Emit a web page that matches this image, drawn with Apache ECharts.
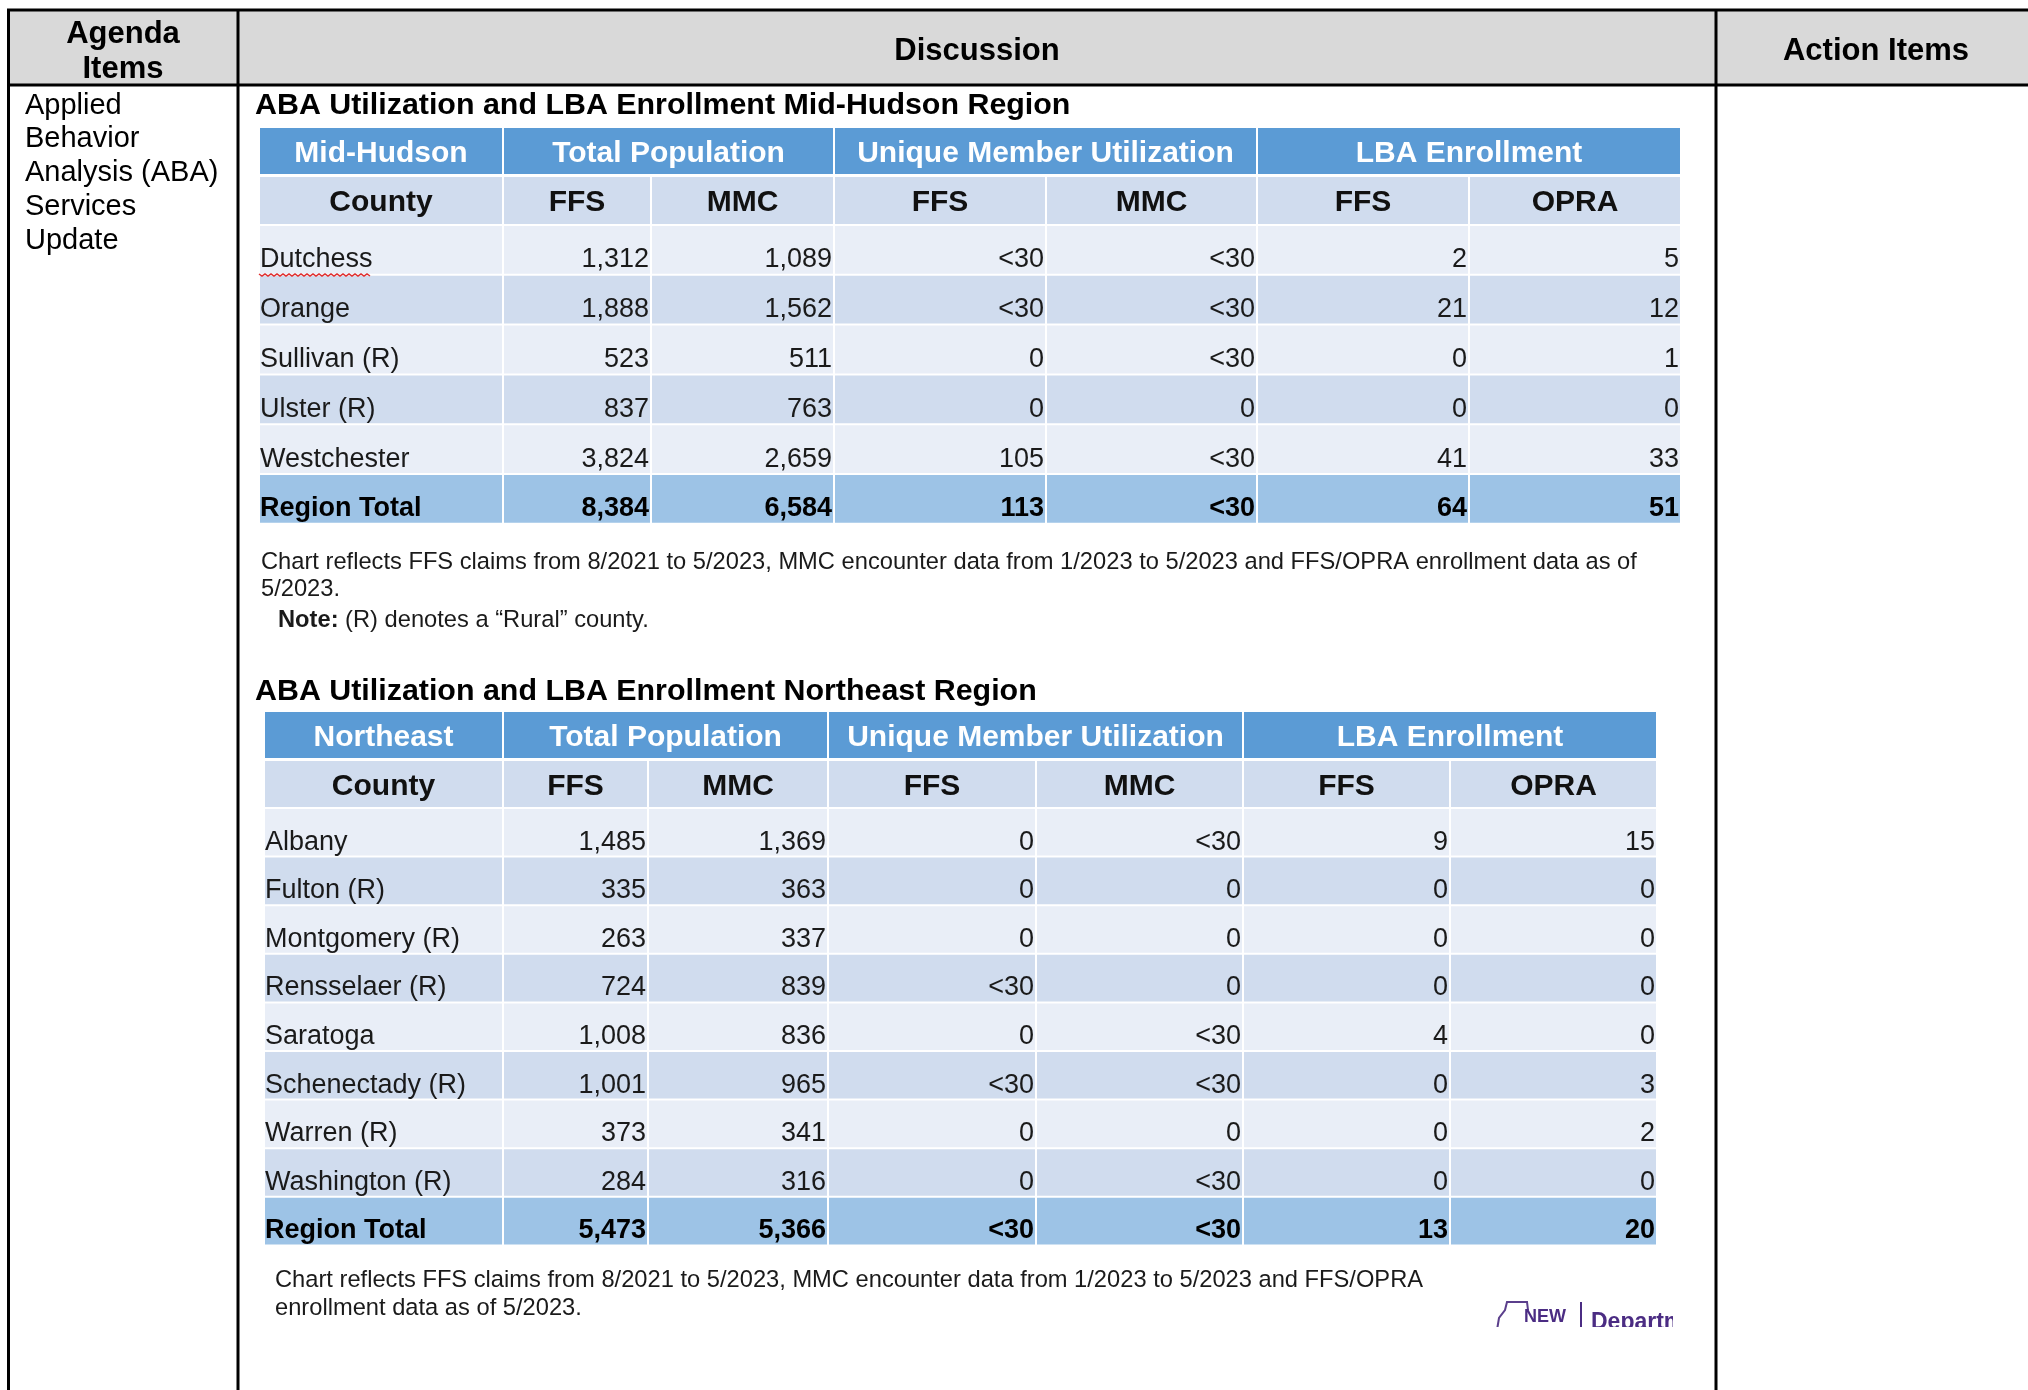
<!DOCTYPE html>
<html>
<head>
<meta charset="utf-8">
<script src="https://cdn.jsdelivr.net/npm/echarts@6/dist/echarts.min.js"></script>
<style>
  html, body { margin: 0; padding: 0; background: #fff; }
  #chart { width: 2028px; height: 1390px; }
</style>
</head>
<body>
<div id="chart"></div>
<script>
// header labels
const groupHeaders = ['Total Population', 'Unique Member Utilization', 'LBA Enrollment'];
const subHeaders = ['County', 'FFS', 'MMC', 'FFS', 'MMC', 'FFS', 'OPRA'];

// Mid-Hudson region
const midHudsonCounties = ['Dutchess', 'Orange', 'Sullivan (R)', 'Ulster (R)', 'Westchester', 'Region Total'];
const midHudsonPopFFS = ['1,312', '1,888', '523', '837', '3,824', '8,384'];
const midHudsonPopMMC = ['1,089', '1,562', '511', '763', '2,659', '6,584'];
const midHudsonUtilFFS = ['<30', '<30', '0', '0', '105', '113'];
const midHudsonUtilMMC = ['<30', '<30', '<30', '0', '<30', '<30'];
const midHudsonLbaFFS = ['2', '21', '0', '0', '41', '64'];
const midHudsonLbaOPRA = ['5', '12', '1', '0', '33', '51'];

// Northeast region
const northeastCounties = ['Albany', 'Fulton (R)', 'Montgomery (R)', 'Rensselaer (R)', 'Saratoga',
  'Schenectady (R)', 'Warren (R)', 'Washington (R)', 'Region Total'];
const northeastPopFFS = ['1,485', '335', '263', '724', '1,008', '1,001', '373', '284', '5,473'];
const northeastPopMMC = ['1,369', '363', '337', '839', '836', '965', '341', '316', '5,366'];
const northeastUtilFFS = ['0', '0', '0', '<30', '0', '<30', '0', '0', '<30'];
const northeastUtilMMC = ['<30', '0', '0', '0', '<30', '<30', '0', '<30', '<30'];
const northeastLbaFFS = ['9', '0', '0', '0', '4', '0', '0', '0', '13'];
const northeastLbaOPRA = ['15', '0', '0', '0', '0', '3', '2', '0', '20'];

const FONT = '"Liberation Sans", Arial, sans-serif';
const fills = { group: '#5B9BD5', sub: '#D0DCEE', light: '#E9EEF7', dark: '#D0DCEE', total: '#9DC3E6' };
const DY = 3; // glyphs sit a little lower than the box middle

const tables = [
  {
    region: 'Mid-Hudson',
    columns: [midHudsonCounties, midHudsonPopFFS, midHudsonPopMMC, midHudsonUtilFFS, midHudsonUtilMMC, midHudsonLbaFFS, midHudsonLbaOPRA],
    left: 259, top: 127,
    colWidths: [244, 148, 183, 212, 211, 212, 212],
    headH: [48, 50], rowH: 49.8
  },
  {
    region: 'Northeast',
    columns: [northeastCounties, northeastPopFFS, northeastPopMMC, northeastUtilFFS, northeastUtilMMC, northeastLbaFFS, northeastLbaOPRA],
    left: 264, top: 711,
    colWidths: [239, 145, 180, 208, 207, 207, 207],
    headH: [48, 49], rowH: 48.6
  }
];

// build the list of cells of one table in its own units (1 unit = 1px)
function buildCells(t) {
  const xs = [0];
  t.colWidths.forEach(w => xs.push(xs[xs.length - 1] + w));
  const ys = [0, t.headH[0], t.headH[0] + t.headH[1]];
  t.columns[0].forEach(() => ys.push(ys[ys.length - 1] + t.rowH));

  const cells = [];
  const spans = [[0, 1, t.region], [1, 3, groupHeaders[0]], [3, 5, groupHeaders[1]], [5, 7, groupHeaders[2]]];
  spans.forEach(([a, b, txt]) => cells.push({ v: [xs[a], ys[0], xs[b], ys[1]], text: txt, kind: 'group' }));
  subHeaders.forEach((txt, c) => cells.push({ v: [xs[c], ys[1], xs[c + 1], ys[2]], text: txt, kind: 'sub' }));
  t.columns.forEach((col, c) => col.forEach((txt, r) => {
    const last = r === col.length - 1;
    cells.push({
      v: [xs[c], ys[r + 2], xs[c + 1], ys[r + 3]],
      text: txt,
      kind: last ? 'total' : (r % 2 ? 'dark' : 'light'),
      align: c === 0 ? 'left' : 'right'
    });
  }));
  return { cells, width: xs[xs.length - 1], height: ys[ys.length - 1] };
}

function makeRender(cells) {
  return function (params, api) {
    const cell = cells[params.dataIndex];
    const p0 = api.coord([api.value(0), api.value(1)]);
    const p1 = api.coord([api.value(2), api.value(3)]);
    const x = p0[0], y = p0[1], w = p1[0] - p0[0], h = p1[1] - p0[1];
    let tx, ty, align, size = 27, weight = 'normal', color = '#1a1a1a';
    if (cell.kind === 'group' || cell.kind === 'sub') {
      tx = x + w / 2; ty = y + h / 2 + DY; align = 'center';
      size = 30; weight = 'bold';
      color = cell.kind === 'group' ? '#ffffff' : '#111111';
    } else {
      align = cell.align;
      tx = align === 'left' ? x + 1 : x + w - 2;
      ty = y + h * 0.64 + DY;
      if (cell.kind === 'total') { weight = 'bold'; color = '#000'; }
    }
    const topGap = cell.kind === 'sub' ? 2 : 1;
    return {
      type: 'group',
      children: [
        { type: 'rect', shape: { x: x + 1, y: y + topGap, width: w - 2, height: h - topGap - 1 }, style: { fill: fills[cell.kind] } },
        {
          type: 'text',
          style: {
            text: cell.text, x: tx, y: ty, align: align, verticalAlign: 'middle',
            textAlign: align, textVerticalAlign: 'middle',
            fontSize: size, fontWeight: weight, fontFamily: FONT, fill: color
          }
        }
      ]
    };
  };
}

const grids = [], xAxes = [], yAxes = [], series = [];
tables.forEach((t, i) => {
  const b = buildCells(t);
  grids.push({ left: t.left, top: t.top, width: b.width, height: b.height });
  xAxes.push({ type: 'value', gridIndex: i, min: 0, max: b.width, show: false });
  yAxes.push({ type: 'value', gridIndex: i, min: 0, max: b.height, inverse: true, show: false });
  series.push({
    type: 'custom',
    xAxisIndex: i, yAxisIndex: i,
    silent: true,
    renderItem: makeRender(b.cells),
    data: b.cells.map(c => c.v)
  });
});

// helpers for the document frame around the tables
function txt(x, y, text, size, opts) {
  opts = opts || {};
  return {
    type: 'text', x: x, y: y + DY, z: 5,
    style: Object.assign({
      text: text, fontSize: size, fontFamily: FONT, fill: '#000',
      fontWeight: opts.bold ? 'bold' : 'normal',
      align: opts.align || 'left', textAlign: opts.align || 'left',
      verticalAlign: 'middle', textVerticalAlign: 'middle'
    }, opts.style || {})
  };
}
function line(x1, y1, x2, y2, w, color) {
  return { type: 'line', z: 6, shape: { x1, y1, x2, y2 }, style: { stroke: color || '#000', lineWidth: w || 3 } };
}

// spell-check squiggle under "Dutchess"
const squiggle = [];
for (let x = 259; x <= 371; x += 3) squiggle.push([x, 274 + ((x - 259) / 3 % 2 ? 2 : 0)]);

const NOTE = 23.7;
const noteStyle = { rich: { b: { fontWeight: 'bold', fontSize: NOTE, fontFamily: FONT, fill: '#1a1a1a' } }, fill: '#1a1a1a' };

const graphic = [
  { type: 'rect', z: 1, shape: { x: 9, y: 10, width: 2019, height: 75 }, style: { fill: '#D9D9D9' } },
  line(7, 10, 2028, 10),
  line(7, 85, 2028, 85),
  line(8.5, 10, 8.5, 1390),
  line(238, 10, 238, 1390),
  line(1716, 10, 1716, 1390),

  txt(123, 31, 'Agenda', 31, { bold: true, align: 'center' }),
  txt(123, 66, 'Items', 31, { bold: true, align: 'center' }),
  txt(977, 48, 'Discussion', 31, { bold: true, align: 'center' }),
  txt(1876, 48, 'Action Items', 31, { bold: true, align: 'center' }),

  txt(25, 103, 'Applied', 29),
  txt(25, 136, 'Behavior', 29),
  txt(25, 170, 'Analysis (ABA)', 29),
  txt(25, 204, 'Services', 29),
  txt(25, 238, 'Update', 29),

  txt(255, 103, 'ABA Utilization and LBA Enrollment Mid-Hudson Region', 30.4, { bold: true }),
  txt(261, 559, 'Chart reflects FFS claims from 8/2021 to 5/2023, MMC encounter data from 1/2023 to 5/2023 and FFS/OPRA enrollment data as of', NOTE, { style: { fill: '#1a1a1a' } }),
  txt(261, 586, '5/2023.', NOTE, { style: { fill: '#1a1a1a' } }),
  txt(278, 617, '{b|Note:} (R) denotes a \u201cRural\u201d county.', NOTE, { style: noteStyle }),

  txt(255, 689, 'ABA Utilization and LBA Enrollment Northeast Region', 30.4, { bold: true }),
  txt(275, 1277, 'Chart reflects FFS claims from 8/2021 to 5/2023, MMC encounter data from 1/2023 to 5/2023 and FFS/OPRA', NOTE, { style: { fill: '#1a1a1a' } }),
  txt(275, 1305, 'enrollment data as of 5/2023.', NOTE, { style: { fill: '#1a1a1a' } }),

  { type: 'polyline', z: 7, shape: { points: squiggle }, style: { stroke: '#E03030', lineWidth: 1.5, fill: null } },

  // cut-off logo in the bottom right corner
  { type: 'polyline', z: 5, shape: { points: [[1497, 1330], [1499, 1318], [1505, 1310], [1507, 1302], [1527, 1302], [1528, 1310]] }, style: { stroke: '#5B3F8C', lineWidth: 2, fill: null } },
  txt(1524, 1314, 'NEW', 18, { bold: true, style: { fill: '#4B2C83' } }),
  line(1581, 1302, 1581, 1328, 2, '#4B2C83'),
  txt(1591, 1320, 'Departme', 23, { bold: true, style: { fill: '#4B2C83' } }),
  { type: 'rect', z: 8, shape: { x: 1673, y: 1290, width: 41, height: 60 }, style: { fill: '#fff' } },
  { type: 'rect', z: 8, shape: { x: 1480, y: 1327, width: 234, height: 63 }, style: { fill: '#fff' } }
];

const chart = echarts.init(document.getElementById('chart'));
chart.setOption({
  animation: false,
  backgroundColor: '#ffffff',
  grid: grids,
  xAxis: xAxes,
  yAxis: yAxes,
  series: series,
  graphic: graphic
});
</script>
</body>
</html>
